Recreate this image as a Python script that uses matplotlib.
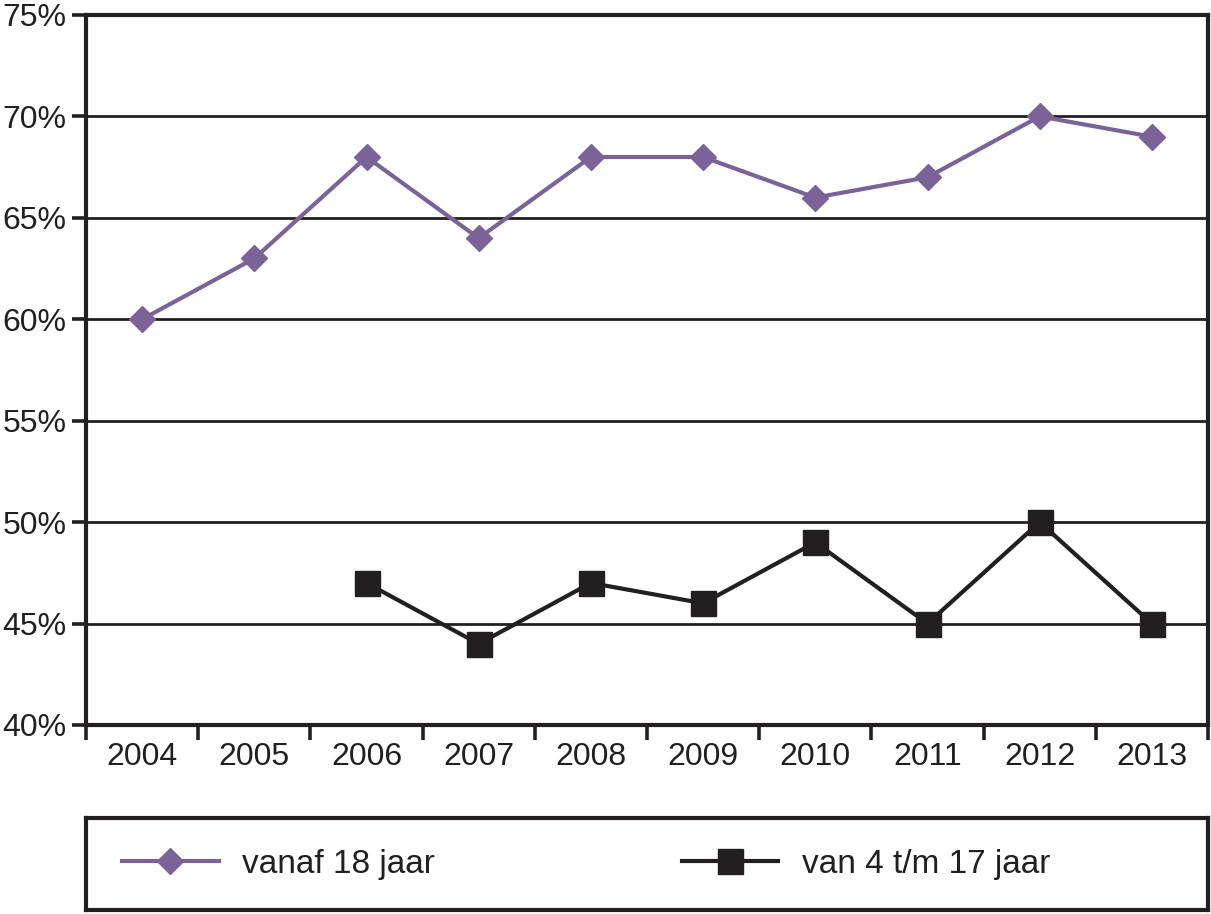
import matplotlib.pyplot as plt
import numpy as np

plt.rcParams['font.family'] = ['Liberation Sans', 'DejaVu Sans']

years = ['2004', '2005', '2006', '2007', '2008', '2009', '2010', '2011', '2012', '2013']
adults = [60, 63, 68, 64, 68, 68, 66, 67, 70, 69]
children = [np.nan, np.nan, 47, 44, 47, 46, 49, 45, 50, 45]
y_ticks = [40, 45, 50, 55, 60, 65, 70, 75]

purple = '#7B6399'
dark = '#231F20'

fig = plt.figure(figsize=(12.11, 9.14), dpi=100)
ax = fig.add_axes([86 / 1211, 1 - 725 / 914, (1208 - 86) / 1211, (725 - 15) / 914])

x = np.arange(len(years))
l1, = ax.plot(x, adults, color=purple, lw=3.0, marker='D', markersize=13,
              markerfacecolor=purple, markeredgecolor=purple, label='vanaf 18 jaar', zorder=3)
l2, = ax.plot(x, children, color=dark, lw=3.0, marker='s', markersize=18,
              markerfacecolor=dark, markeredgecolor=dark, label='van 4 t/m 17 jaar', zorder=3)

ax.set_xlim(-0.5, len(years) - 0.5)
ax.set_ylim(40, 75)
ax.set_yticks(y_ticks)
ax.set_yticklabels([f'{v}%' for v in y_ticks], fontsize=23, color=dark)
for v in y_ticks[1:-1]:
    ax.axhline(v, color=dark, lw=2.0, zorder=1)

ax.set_xticks(x)
ax.set_xticklabels(years, fontsize=23, color=dark)
ax.tick_params(axis='x', which='major', length=0, pad=12)
ax.set_xticks(np.arange(-0.5, len(years), 1), minor=True)
ax.tick_params(axis='x', which='minor', length=11, width=2.6, color=dark, direction='out')
ax.tick_params(axis='y', length=10, width=2.6, color=dark, direction='out', pad=4)

for s in ax.spines.values():
    s.set_linewidth(3.0)
    s.set_color(dark)

# legend box
lax = fig.add_axes([86 / 1211, 1 - 910 / 914, (1208 - 86) / 1211, (910 - 818) / 914])
lax.set_xticks([])
lax.set_yticks([])
for s in lax.spines.values():
    s.set_linewidth(3.0)
    s.set_color(dark)
leg = lax.legend([l1, l2], ['vanaf 18 jaar', 'van 4 t/m 17 jaar'], loc='center left',
                 bbox_to_anchor=(36 / 1122, 0.5), ncol=2, fontsize=24, frameon=False,
                 borderpad=0, borderaxespad=0, handlelength=2.9, handletextpad=0.7,
                 columnspacing=7.4)
for t in leg.get_texts():
    t.set_color(dark)

fig.savefig('out.png', dpi=100)
